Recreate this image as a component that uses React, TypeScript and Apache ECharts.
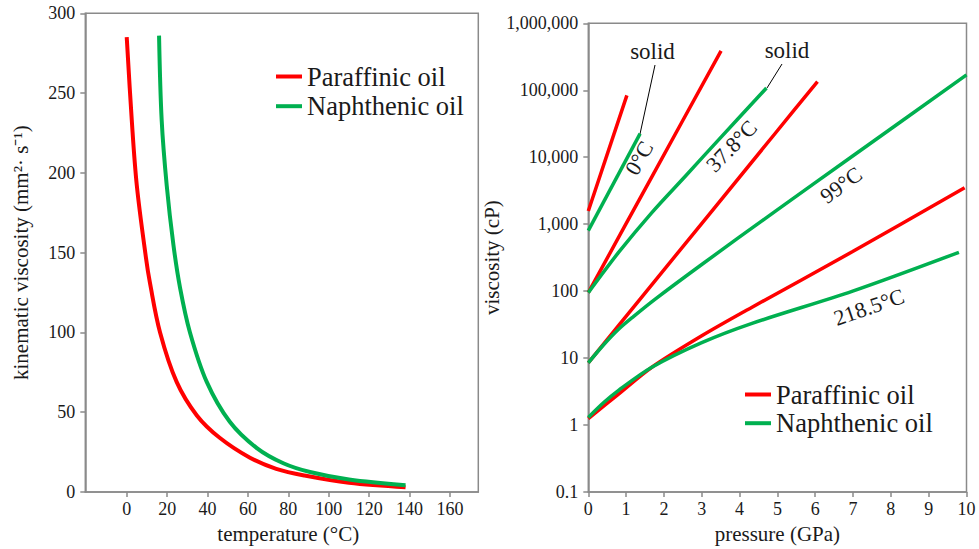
import React, { useEffect, useRef } from "react";
import * as echarts from "echarts";

// ---------- Left chart: kinematic viscosity vs temperature ----------
const tempTicks = [0, 20, 40, 60, 80, 100, 120, 140, 160];
const kvTicks = [0, 50, 100, 150, 200, 250, 300];

const parTemp = [0, 2.5, 5, 9.5, 11.5, 16.5, 24.7, 34.7, 46, 61, 74, 88, 110, 138];
const parKV = [285, 233, 192, 147, 131, 100, 69, 48, 34, 21.5, 14.5, 10.3, 5.8, 3];

const napTemp = [16, 17.3, 19.8, 23.1, 26.4, 31.3, 39.6, 51, 64.4, 77.5, 90.7, 110, 138];
const napKV = [286, 233, 192, 155, 128, 100, 69, 44, 27.5, 18, 12.5, 7.8, 4.2];

// ---------- Right chart: viscosity vs pressure ----------
const pressureTicks = [0, 1, 2, 3, 4, 5, 6, 7, 8, 9, 10];
const viscTicks = [0.1, 1, 10, 100, 1000, 10000, 100000, 1000000];

const par0P = [0, 1.02];
const par0V = [1570, 84000];
const nap0P = [0, 1.37];
const nap0V = [800, 22500];

const par38P = [0, 1.68, 3.51];
const par38V = [95, 5100, 387000];
const nap38P = [0, 0.8, 1.68, 2.565, 3.45, 4.71];
const nap38V = [95, 378, 1490, 5200, 18300, 108000];

const par99P = [0, 1.37, 4.95, 6.06];
const par99V = [8.5, 76, 23000, 135000];
const nap99P = [0, 0.4, 0.8, 1.2, 1.77, 3.0, 4.95, 7.0, 10.0];
const nap99V = [8.5, 15.7, 27, 42, 76, 250, 1570, 10500, 170000];

const par218P = [0, 0.8, 1.68, 3, 4.33, 6.99, 9.95];
const par218V = [1.25, 2.9, 7.3, 21.5, 57.5, 390, 3500];
const nap218P = [0, 0.4, 0.8, 1.68, 3, 4.33, 6.99, 9.8];
const nap218V = [1.3, 2.15, 3.3, 7.3, 17, 33, 100, 380];

const PAR = "Paraffinic oil";
const NAP = "Naphthenic oil";
const RED = "#ff0000";
const GREEN = "#00b050";
const FONT = "'Liberation Serif', 'Times New Roman', serif";
const AXIS = "#8a8a8a";
const TXT = "#1a1a1a";

const zip = (xs: number[], ys: number[]) => xs.map((x, i) => [x, ys[i]]);

export default function App() {
  const ref = useRef<HTMLDivElement>(null);

  useEffect(() => {
    if (!ref.current) return;
    const chart = echarts.init(ref.current, null, { renderer: "svg" });

    const axisLine = { show: true, onZero: false, lineStyle: { color: AXIS, width: 1.5 } };
    const axisTick = (vals: number[]) => ({
      show: true,
      length: 5,
      customValues: vals,
      lineStyle: { color: AXIS, width: 1.5 },
    });
    const label = (vals: number[], margin: number, fmt?: (v: number) => string) => ({
      customValues: vals,
      fontFamily: FONT,
      fontSize: 18,
      color: TXT,
      margin,
      formatter: fmt,
    });
    const nameStyle = { fontFamily: FONT, fontSize: 21, color: TXT };

    const lineSeries = (
      name: string,
      color: string,
      xs: number[],
      ys: number[],
      idx: number,
      width: number,
      smooth: boolean | number
    ) => ({
      type: "line",
      name,
      xAxisIndex: idx,
      yAxisIndex: idx,
      data: zip(xs, ys),
      showSymbol: false,
      symbol: "none",
      smooth,
      lineStyle: { color, width, cap: "butt" },
      itemStyle: { color },
      emphasis: { disabled: true },
    });

    const legendCommon = {
      orient: "vertical",
      icon: "rect",
      itemWidth: 26,
      itemHeight: 4,
      padding: 0,
      selectedMode: false,
      textStyle: { fontFamily: FONT, fontSize: 26.5, color: TXT, lineHeight: 24 },
      data: [
        { name: PAR, itemStyle: { color: RED } },
        { name: NAP, itemStyle: { color: GREEN } },
      ],
    };

    const viscFmt = (v: number) =>
      v < 0.5 ? "0.1" : Math.round(v).toLocaleString("en-US");

    const temps = [
      { text: "0°C", x: 639, y: 158, rot: 60 },
      { text: "37.8°C", x: 731.5, y: 146, rot: 46 },
      { text: "99°C", x: 841, y: 185, rot: 36 },
      { text: "218.5°C", x: 869, y: 307, rot: 19 },
    ];

    chart.setOption({
      animation: false,
      backgroundColor: "#ffffff",
      grid: [
        {
          left: 85.3,
          top: 13.3,
          width: 393,
          height: 480.7,
          show: true,
          borderColor: AXIS,
          borderWidth: 1.5,
          backgroundColor: "transparent",
        },
        {
          left: 588.3,
          top: 23.3,
          width: 378.2,
          height: 470.7,
          show: true,
          borderColor: AXIS,
          borderWidth: 1.5,
          backgroundColor: "transparent",
        },
      ],
      xAxis: [
        {
          type: "value",
          gridIndex: 0,
          min: -20.5,
          max: 174,
          axisLine,
          axisTick: axisTick(tempTicks),
          axisLabel: label(tempTicks, 8),
          splitLine: { show: false },
          name: "temperature (°C)",
          nameLocation: "middle",
          nameGap: 31,
          nameTextStyle: { ...nameStyle, padding: [0, 0, 0, 13] },
        },
        {
          type: "value",
          gridIndex: 1,
          min: 0,
          max: 10,
          axisLine,
          axisTick: axisTick(pressureTicks),
          axisLabel: label(pressureTicks, 8),
          splitLine: { show: false },
          name: "pressure (GPa)",
          nameLocation: "middle",
          nameGap: 31,
          nameTextStyle: nameStyle,
        },
      ],
      yAxis: [
        {
          type: "value",
          gridIndex: 0,
          min: 0,
          max: 300,
          axisLine,
          axisTick: axisTick(kvTicks),
          axisLabel: label(kvTicks, 10),
          splitLine: { show: false },
          name: "kinematic viscosity (mm²· s⁻¹)",
          nameLocation: "middle",
          nameGap: 54,
          nameTextStyle: nameStyle,
        },
        {
          type: "log",
          logBase: 10,
          gridIndex: 1,
          min: 0.1,
          max: 1000000,
          axisLine,
          axisTick: axisTick(viscTicks),
          axisLabel: label(viscTicks, 10, viscFmt),
          minorTick: { show: false },
          splitLine: { show: false },
          name: "viscosity (cP)",
          nameLocation: "middle",
          nameGap: 67,
          nameTextStyle: nameStyle,
        },
      ],
      legend: [
        { ...legendCommon, left: 276, top: 63, itemGap: 2.7 },
        { ...legendCommon, left: 745, top: 381, itemGap: 1.7 },
      ],
      series: [
        lineSeries(PAR, RED, parTemp, parKV, 0, 4, 0.35),
        lineSeries(NAP, GREEN, napTemp, napKV, 0, 4, 0.35),
        lineSeries(PAR, RED, par0P, par0V, 1, 3.5, false),
        lineSeries(NAP, GREEN, nap0P, nap0V, 1, 3.5, false),
        lineSeries(PAR, RED, par38P, par38V, 1, 3.5, 0.3),
        lineSeries(NAP, GREEN, nap38P, nap38V, 1, 3.5, 0.3),
        lineSeries(PAR, RED, par99P, par99V, 1, 3.5, 0.3),
        lineSeries(NAP, GREEN, nap99P, nap99V, 1, 3.5, 0.3),
        lineSeries(PAR, RED, par218P, par218V, 1, 3.5, 0.3),
        lineSeries(NAP, GREEN, nap218P, nap218V, 1, 3.5, 0.3),
      ],
      graphic: [
        ...temps.map((t) => ({
          type: "text",
          x: t.x,
          y: t.y,
          rotation: (t.rot * Math.PI) / 180,
          silent: true,
          style: {
            text: t.text,
            fontFamily: FONT,
            fontSize: 22,
            fill: TXT,
            align: "center",
            verticalAlign: "middle",
          },
        })),
        {
          type: "text",
          x: 652.5,
          y: 51.5,
          silent: true,
          style: { text: "solid", fontFamily: FONT, fontSize: 23, fill: TXT, align: "center", verticalAlign: "middle" },
        },
        {
          type: "text",
          x: 787,
          y: 50.5,
          silent: true,
          style: { text: "solid", fontFamily: FONT, fontSize: 23, fill: TXT, align: "center", verticalAlign: "middle" },
        },
        {
          type: "line",
          silent: true,
          shape: { x1: 655, y1: 65, x2: 640, y2: 134 },
          style: { stroke: "#000", lineWidth: 1 },
        },
        {
          type: "line",
          silent: true,
          shape: { x1: 782, y1: 64, x2: 767, y2: 88 },
          style: { stroke: "#000", lineWidth: 1 },
        },
      ],
    });

    return () => chart.dispose();
  }, []);

  return (
    <div
      ref={ref}
      style={{ position: "absolute", left: 0, top: 0, width: 979, height: 549, background: "#fff" }}
    />
  );
}
